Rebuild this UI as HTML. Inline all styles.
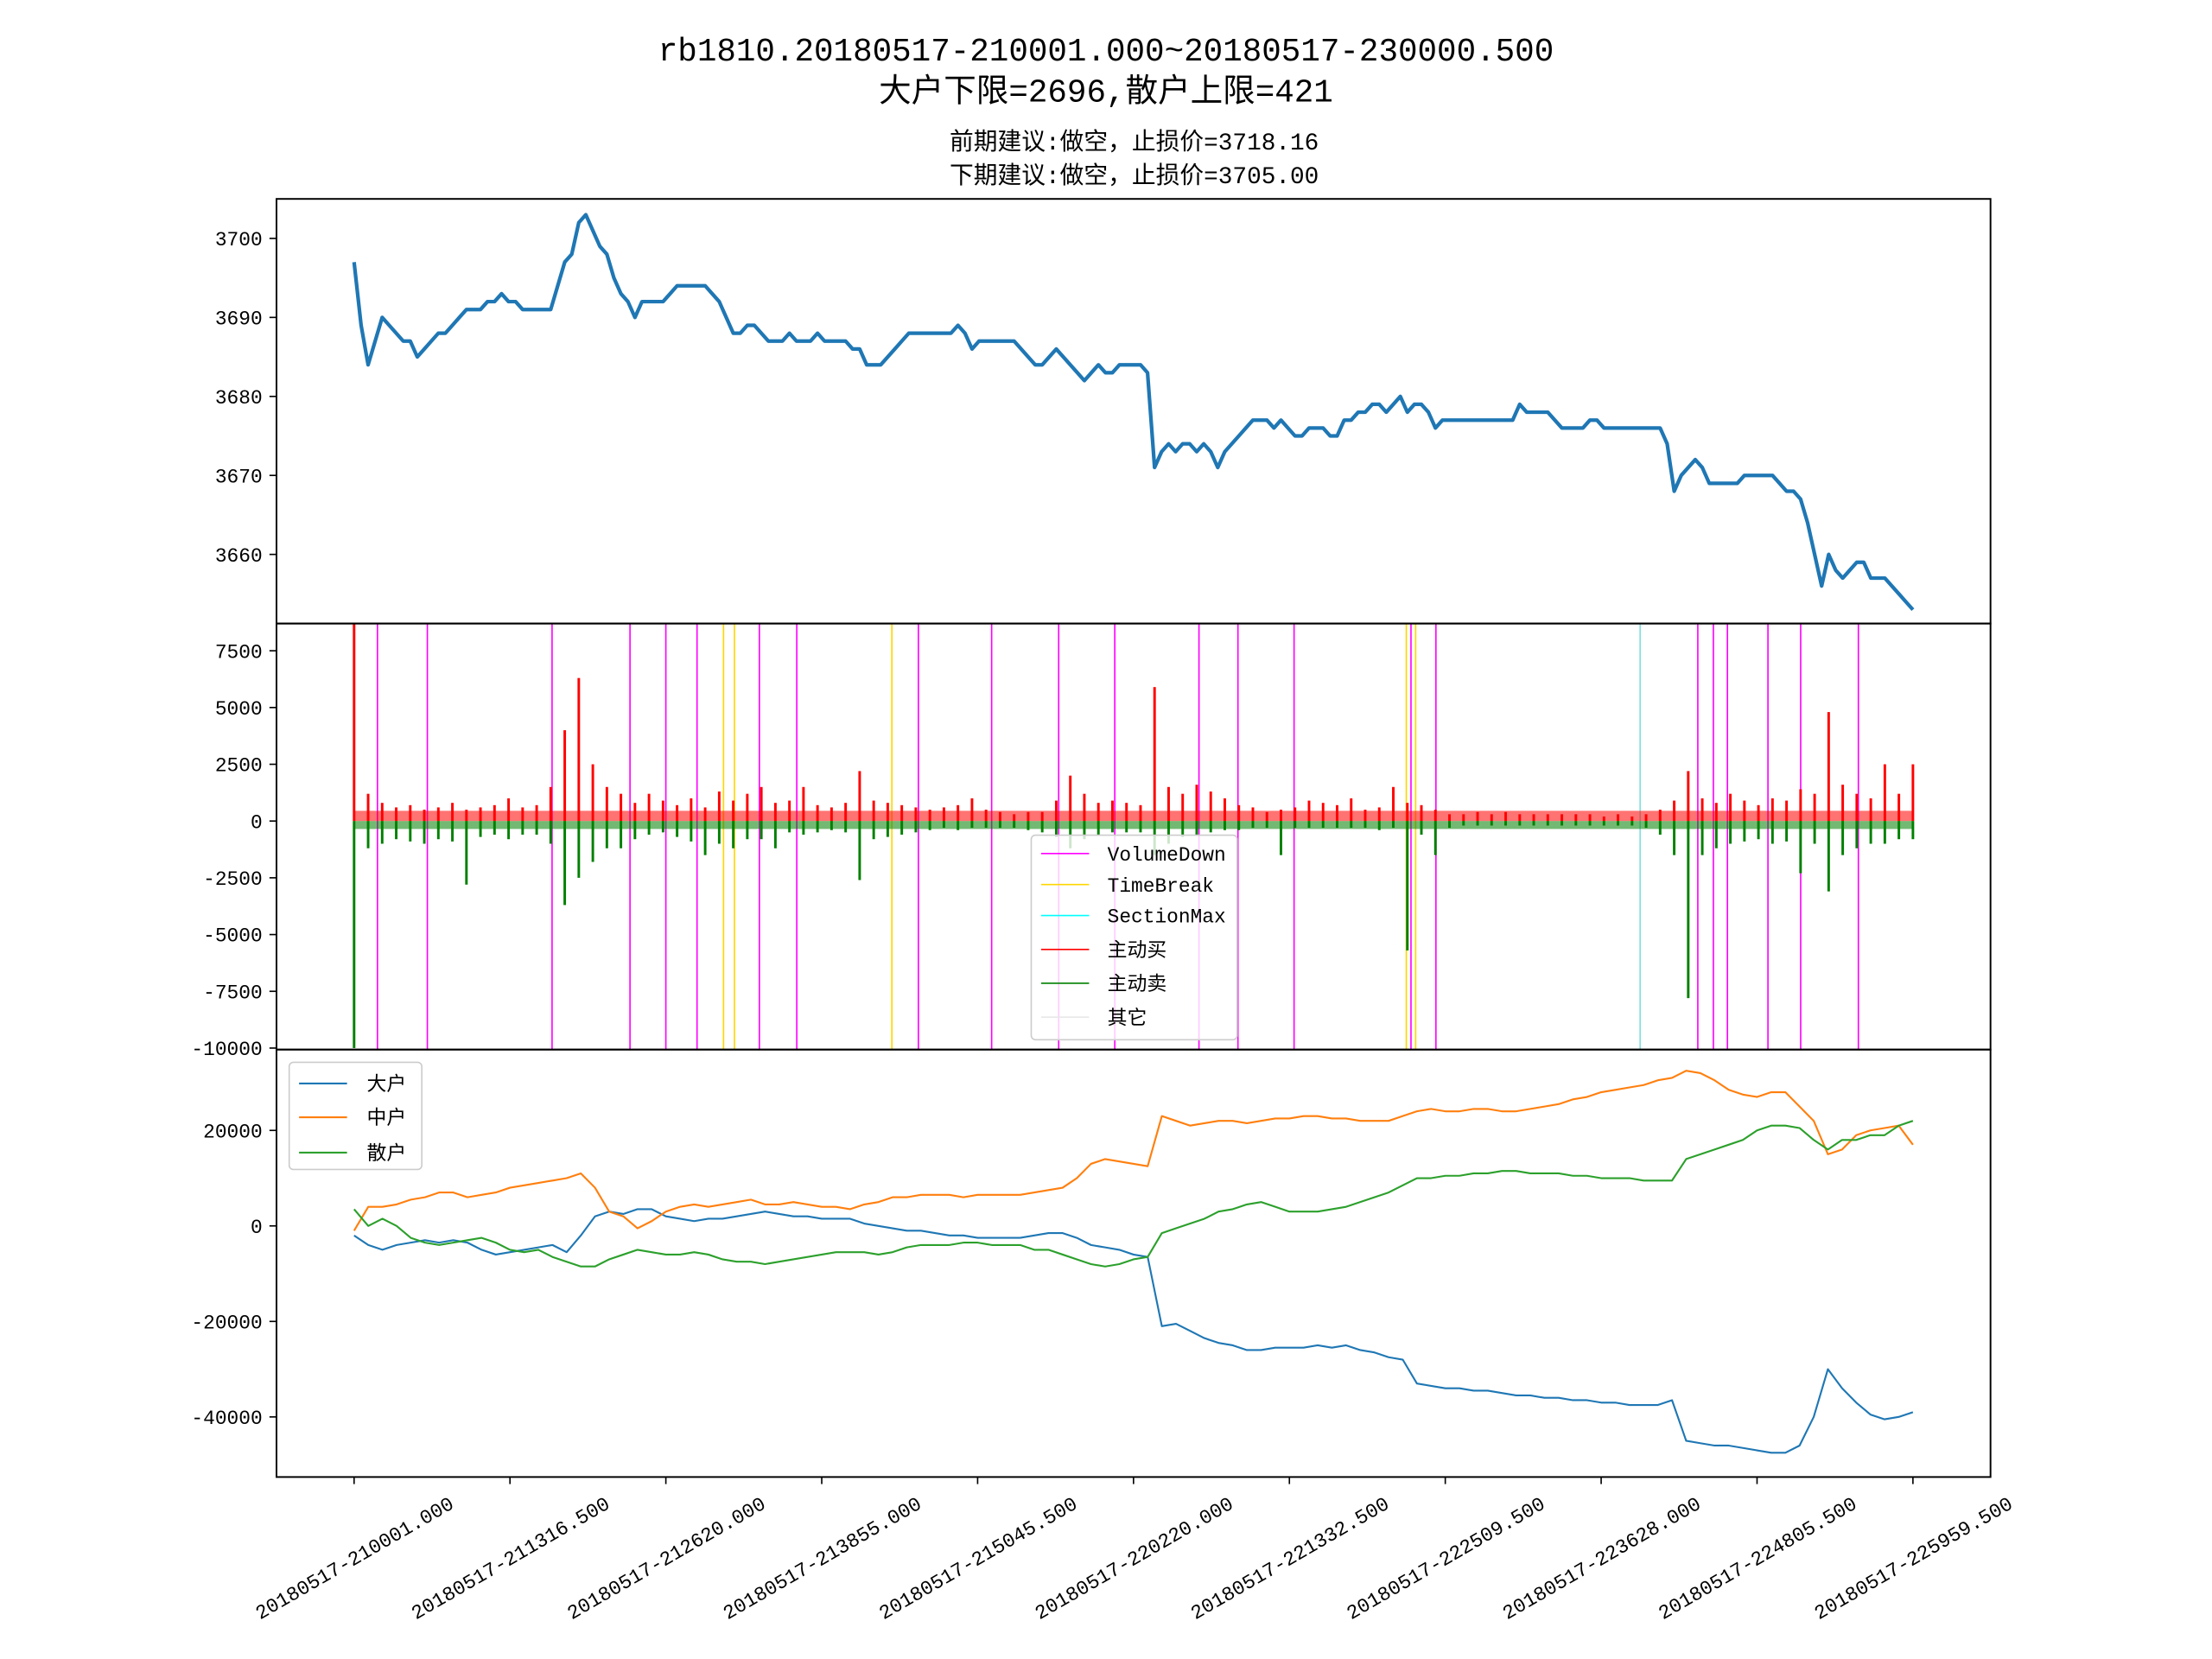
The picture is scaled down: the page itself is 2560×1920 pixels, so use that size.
<!DOCTYPE html>
<html><head><meta charset="utf-8"><style>
html,body{margin:0;padding:0;background:#fff;}
svg{display:block;font-family:"Liberation Mono","Noto Sans CJK SC",monospace;}
</style></head><body>
<svg id="chart" width="2560" height="1920" viewBox="0 0 1568 1176" xmlns="http://www.w3.org/2000/svg">
<rect x="0" y="0" width="1568" height="1176" fill="#fff"/>
<g fill="#000" text-anchor="middle">
<text x="784" y="43" font-size="23">rb1810.20180517-210001.000~20180517-230000.500</text>
<text x="784" y="72" font-size="23">大户下限=2696,散户上限=421</text>
<text x="804" y="106" font-size="17">前期建议:做空，止损价=3718.16</text>
<text x="804" y="130" font-size="17">下期建议:做空，止损价=3705.00</text>
</g>
<g id="p1"></g>
<g id="p2"></g>
<g id="p3"></g>
<g id="frames"></g>
<g id="xaxis"></g>
</svg>
<script>
const xTickLabels=["20180517-210001.000","20180517-211316.500","20180517-212620.000","20180517-213855.000","20180517-215045.500","20180517-220220.000","20180517-221332.500","20180517-222509.500","20180517-223628.000","20180517-224805.500","20180517-225959.500"];
const priceTicks=[3700,3690,3680,3670,3660];
const volTicks=[7500,5000,2500,0,-2500,-5000,-7500,-10000];
const flowTicks=[20000,0,-20000,-40000];
const price=[3697,3689,3684,3687,3690,3689,3688,3687,3687,3685,3686,3687,3688,3688,3689,3690,3691,3691,3691,3692,3692,3693,3692,3692,3691,3691,3691,3691,3691,3694,3697,3698,3702,3703,3701,3699,3698,3695,3693,3692,3690,3692,3692,3692,3692,3693,3694,3694,3694,3694,3694,3693,3692,3690,3688,3688,3689,3689,3688,3687,3687,3687,3688,3687,3687,3687,3688,3687,3687,3687,3687,3686,3686,3684,3684,3684,3685,3686,3687,3688,3688,3688,3688,3688,3688,3688,3689,3688,3686,3687,3687,3687,3687,3687,3687,3686,3685,3684,3684,3685,3686,3685,3684,3683,3682,3683,3684,3683,3683,3684,3684,3684,3684,3683,3671,3673,3674,3673,3674,3674,3673,3674,3673,3671,3673,3674,3675,3676,3677,3677,3677,3676,3677,3676,3675,3675,3676,3676,3676,3675,3675,3677,3677,3678,3678,3679,3679,3678,3679,3680,3678,3679,3679,3678,3676,3677,3677,3677,3677,3677,3677,3677,3677,3677,3677,3677,3679,3678,3678,3678,3678,3677,3676,3676,3676,3676,3677,3677,3676,3676,3676,3676,3676,3676,3676,3676,3676,3674,3668,3670,3671,3672,3671,3669,3669,3669,3669,3669,3670,3670,3670,3670,3670,3669,3668,3668,3667,3664,3660,3656,3660,3658,3657,3658,3659,3659,3657,3657,3657,3656,3655,3654,3653];
const buyVol=[9800,1200,800,600,700,500,600,800,500,600,700,1000,600,700,1500,4000,6300,2500,1500,1200,800,1200,900,700,1000,600,1300,900,1200,1500,800,900,1500,700,600,800,2200,900,800,700,600,500,600,700,1000,500,400,300,400,400,900,2000,1200,800,900,800,700,5900,1500,1200,1600,1300,1000,700,600,400,500,600,900,800,700,1000,500,600,1500,800,700,500,300,300,400,300,400,300,300,300,300,300,300,200,300,200,300,500,900,2200,1000,800,1200,900,700,1000,900,1400,1200,4800,1600,1200,1000,2500,1200,2500];
const sellVol=[-10000,-1200,-1000,-800,-900,-1000,-800,-900,-2800,-700,-600,-800,-600,-600,-1000,-3700,-2500,-1800,-1200,-1200,-800,-600,-500,-700,-900,-1500,-1000,-1200,-800,-800,-1200,-500,-600,-500,-400,-500,-2600,-800,-700,-600,-500,-400,-300,-400,-300,-300,-300,-300,-400,-500,-700,-1200,-800,-600,-500,-500,-500,-1500,-1000,-700,-600,-500,-400,-400,-300,-300,-1500,-300,-300,-300,-300,-300,-300,-400,-300,-5700,-600,-1500,-300,-200,-200,-200,-200,-200,-200,-200,-200,-200,-200,-200,-200,-200,-300,-600,-1500,-7800,-1500,-1200,-1000,-900,-800,-1000,-900,-2300,-1000,-3100,-1500,-1200,-1000,-1000,-800,-800];
const volumeDownIdx=[15,47,127,177,200,220,260,284,362,409,452,488,542,567,603,678,694,862,872,881,907,928,965];
const timeBreakIdx=[237,244,345,675,681];
const sectionMaxIdx=[825];
const bigFlow=[-2000,-4000,-5000,-4000,-3500,-3000,-3500,-3000,-3500,-5000,-6000,-5500,-5000,-4500,-4000,-5500,-2000,2000,3000,2500,3500,3500,2000,1500,1000,1500,1500,2000,2500,3000,2500,2000,2000,1500,1500,1500,500,0,-500,-1000,-1000,-1500,-2000,-2000,-2500,-2500,-2500,-2500,-2000,-1500,-1500,-2500,-4000,-4500,-5000,-6000,-6500,-21000,-20500,-22000,-23500,-24500,-25000,-26000,-26000,-25500,-25500,-25500,-25000,-25500,-25000,-26000,-26500,-27500,-28000,-33000,-33500,-34000,-34000,-34500,-34500,-35000,-35500,-35500,-36000,-36000,-36500,-36500,-37000,-37000,-37500,-37500,-37500,-36500,-45000,-45500,-46000,-46000,-46500,-47000,-47500,-47500,-46000,-40000,-30000,-34000,-37000,-39500,-40500,-40000,-39000];
const midFlow=[-1000,4000,4000,4500,5500,6000,7000,7000,6000,6500,7000,8000,8500,9000,9500,10000,11000,8000,3000,2000,-500,1000,3000,4000,4500,4000,4500,5000,5500,4500,4500,5000,4500,4000,4000,3500,4500,5000,6000,6000,6500,6500,6500,6000,6500,6500,6500,6500,7000,7500,8000,10000,13000,14000,13500,13000,12500,23000,22000,21000,21500,22000,22000,21500,22000,22500,22500,23000,23000,22500,22500,22000,22000,22000,23000,24000,24500,24000,24000,24500,24500,24000,24000,24500,25000,25500,26500,27000,28000,28500,29000,29500,30500,31000,32500,32000,30500,28500,27500,27000,28000,28000,25000,22000,15000,16000,19000,20000,20500,21000,17000];
const smallFlow=[3500,0,1500,0,-2500,-3500,-4000,-3500,-3000,-2500,-3500,-5000,-5500,-5000,-6500,-7500,-8500,-8500,-7000,-6000,-5000,-5500,-6000,-6000,-5500,-6000,-7000,-7500,-7500,-8000,-7500,-7000,-6500,-6000,-5500,-5500,-5500,-6000,-5500,-4500,-4000,-4000,-4000,-3500,-3500,-4000,-4000,-4000,-5000,-5000,-6000,-7000,-8000,-8500,-8000,-7000,-6500,-1500,-500,500,1500,3000,3500,4500,5000,4000,3000,3000,3000,3500,4000,5000,6000,7000,8500,10000,10000,10500,10500,11000,11000,11500,11500,11000,11000,11000,10500,10500,10000,10000,10000,9500,9500,9500,14000,15000,16000,17000,18000,20000,21000,21000,20500,18000,16000,18000,18000,19000,19000,21000,22000];

const NS="http://www.w3.org/2000/svg";
const AX_L=196,AX_R=1411;
const X0=251,X1=1356;
function xScale(idx){return X0+(X1-X0)*idx/1000;}
function idxOf(i,n){return i*1000/(n-1);}
function lin(d0,d1,r0,r1){return v=>r0+(v-d0)*(r1-r0)/(d1-d0);}
const yP=lin(3700,3660,169,393);
const yV=lin(0,7500,582,461.3);
const yF=lin(0,20000,869,801.3);
function mk(tag,attrs,parent){const e=document.createElementNS(NS,tag);for(const k in attrs)e.setAttribute(k,attrs[k]);parent.appendChild(e);return e;}
const p1=document.getElementById('p1'),p2=document.getElementById('p2'),p3=document.getElementById('p3');
const frames=document.getElementById('frames'),xaxis=document.getElementById('xaxis');

function yTicks(parent,ticks,scale,name){
  ticks.forEach(t=>{
    const y=scale(t);
    const l=mk('line',{x1:AX_L-5,x2:AX_L,y1:y,y2:y,stroke:'#000','stroke-width':1},parent);
    
    
    const tx=mk('text',{x:AX_L-10,y:y+5,'font-size':14,'text-anchor':'end',fill:'#000'},parent);
    
    
    tx.textContent=t;
  });
}
function polyline(parent,vals,scale,color,w,name){
  const pts=vals.map((v,i)=>xScale(idxOf(i,vals.length)).toFixed(2)+','+scale(v).toFixed(2)).join(' ');
  const p=mk('polyline',{points:pts,fill:'none',stroke:color,'stroke-width':w,'stroke-linejoin':'round'},parent);
  
  
}
// panel 1
const c1=mk('clipPath',{id:'cl1'},p1);mk('rect',{x:AX_L,y:141,width:AX_R-AX_L,height:301},c1);
const g1=mk('g',{'clip-path':'url(#cl1)'},p1);
polyline(g1,price,yP,'#1f77b4',2.6,'price-line');
yTicks(p1,priceTicks,yP,'price-y');
// panel 2
const c2=mk('clipPath',{id:'cl2'},p2);mk('rect',{x:AX_L,y:442,width:AX_R-AX_L,height:302},c2);
const g2=mk('g',{'clip-path':'url(#cl2)'},p2);
function vlines(arr,color,name){arr.forEach(ix=>{const x=xScale(ix);const l=mk('line',{x1:x,x2:x,y1:442,y2:744,stroke:color,'stroke-width':1},g2);});}
vlines(volumeDownIdx,'#ff00ff','volume-down-line');
vlines(timeBreakIdx,'#ffd700','time-break-line');
vlines(sectionMaxIdx,'#7fdfdf','section-max-line');
mk('rect',{x:X0,y:yV(450),width:X1-X0,height:yV(0)-yV(450),fill:'#ff0000',opacity:0.55},g2);
mk('rect',{x:X0,y:yV(0),width:X1-X0,height:yV(-350)-yV(0),fill:'#008000',opacity:0.55},g2);
buyVol.forEach((v,i)=>{const x=xScale(idxOf(i,buyVol.length));const r=mk('rect',{x:x-0.9,y:yV(v),width:1.8,height:yV(0)-yV(v),fill:'#ff0000'},g2);});
sellVol.forEach((v,i)=>{const x=xScale(idxOf(i,sellVol.length));const r=mk('rect',{x:x-0.9,y:yV(0),width:1.8,height:yV(v)-yV(0),fill:'#008000'},g2);});
yTicks(p2,volTicks,yV,'volume-y');
// legend 2
const lg2=mk('g',{},p2);
mk('rect',{x:731,y:592,width:146,height:145,rx:3,fill:'#fff','fill-opacity':0.8,stroke:'#ccc','stroke-width':1},lg2);
const legItems=[['VolumeDown','#ff00ff'],['TimeBreak','#ffd700'],['SectionMax','#00ffff'],['主动买','#ff0000'],['主动卖','#008000'],['其它','#e8e8e8']];
const legY=[605,627,649,673,697,721];
legItems.forEach((it,i)=>{mk('line',{x1:738,x2:772,y1:legY[i],y2:legY[i],stroke:it[1],'stroke-width':1},lg2);const t=mk('text',{x:785,y:legY[i]+5,'font-size':14,fill:'#000'},lg2);t.textContent=it[0];});
// panel 3
const c3=mk('clipPath',{id:'cl3'},p3);mk('rect',{x:AX_L,y:744,width:AX_R-AX_L,height:303},c3);
const g3=mk('g',{'clip-path':'url(#cl3)'},p3);
polyline(g3,bigFlow,yF,'#1f77b4',1.3,'big-trader-line');
polyline(g3,midFlow,yF,'#ff7f0e',1.3,'mid-trader-line');
polyline(g3,smallFlow,yF,'#2ca02c',1.3,'small-trader-line');
yTicks(p3,flowTicks,yF,'flow-y');
const lg3=mk('g',{},p3);
mk('rect',{x:205,y:753,width:94,height:76,rx:3,fill:'#fff','fill-opacity':0.8,stroke:'#ccc','stroke-width':1},lg3);
[['大户','#1f77b4',768],['中户','#ff7f0e',792],['散户','#2ca02c',817]].forEach(it=>{mk('line',{x1:212,x2:246,y1:it[2],y2:it[2],stroke:it[1],'stroke-width':1.3},lg3);const t=mk('text',{x:260,y:it[2]+5,'font-size':14,fill:'#000'},lg3);t.textContent=it[0];});
// frames
[[141,442],[442,744],[744,1047]].forEach(b=>{const r=mk('rect',{x:AX_L,y:b[0],width:AX_R-AX_L,height:b[1]-b[0],fill:'none',stroke:'#000','stroke-width':1.2},frames);});
// x axis
xTickLabels.forEach((lab,i)=>{const x=xScale(i*100);const l=mk('line',{x1:x,x2:x,y1:1047,y2:1052,stroke:'#000','stroke-width':1},xaxis);
const cy=1104;
const t=mk('text',{x:x,y:cy+5,'font-size':14,'text-anchor':'middle',fill:'#000',transform:'rotate(-30 '+x+' '+cy+')'},xaxis);t.textContent=lab;});
</script>
</body></html>
